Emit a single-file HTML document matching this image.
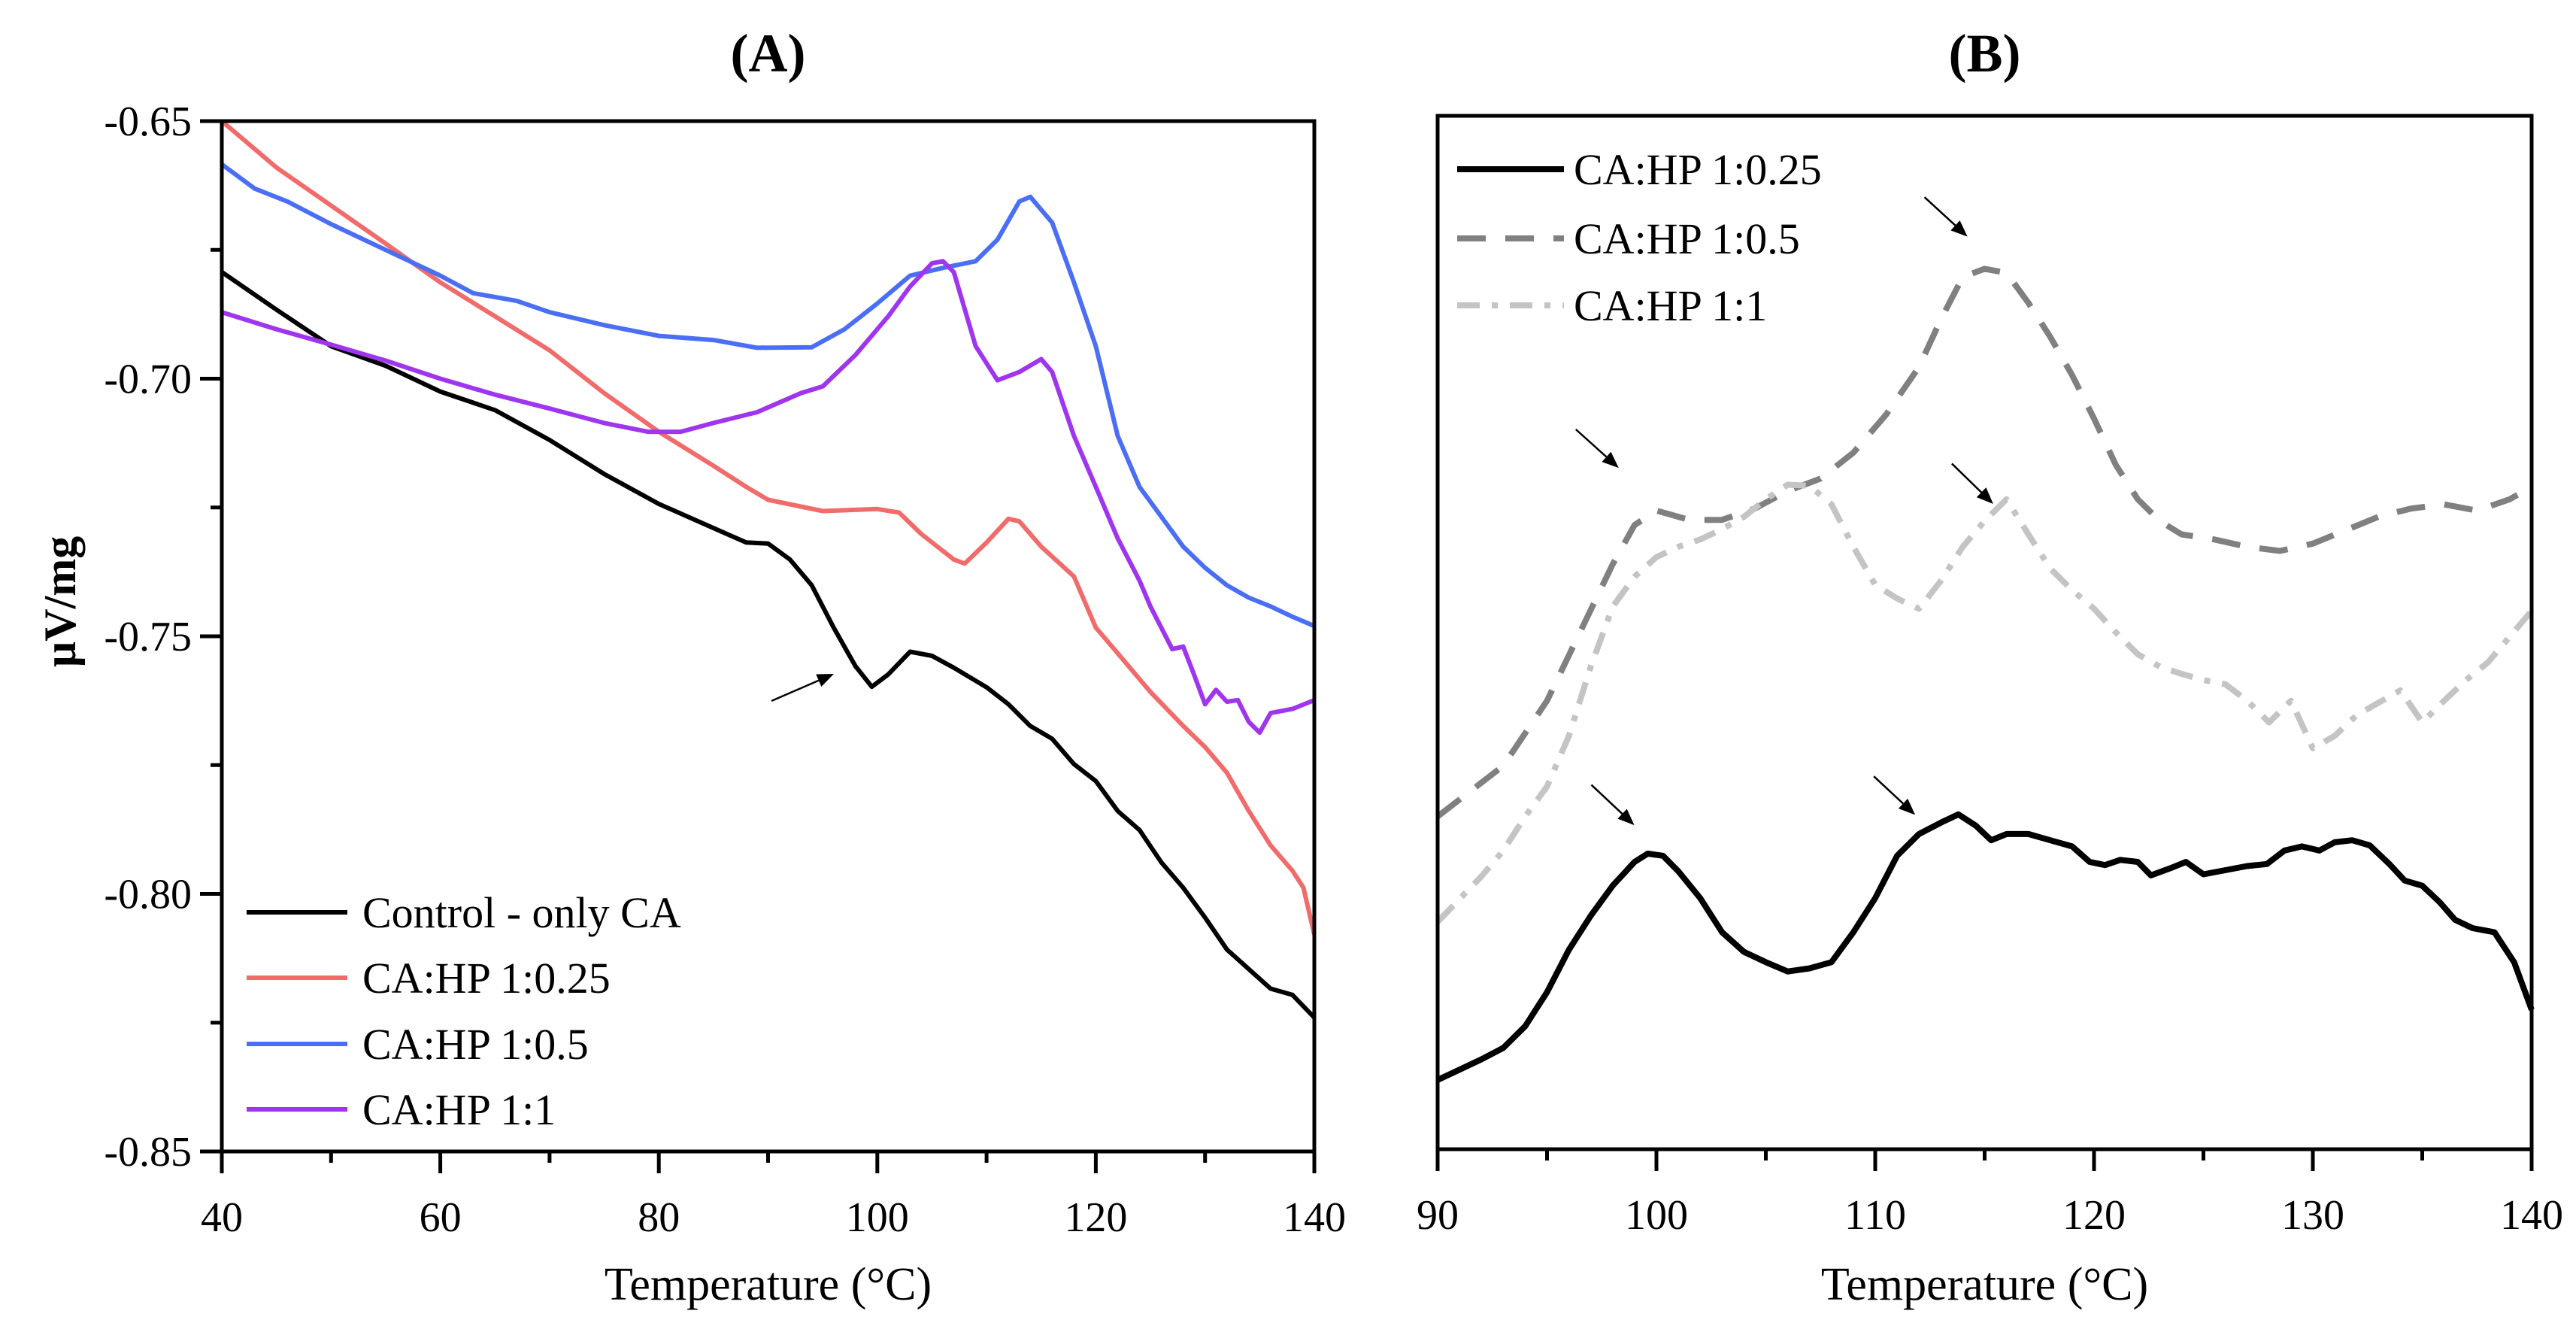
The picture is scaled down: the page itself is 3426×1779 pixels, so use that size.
<!DOCTYPE html>
<html><head><meta charset="utf-8">
<style>
html,body{margin:0;padding:0;background:#fff;}
svg{display:block;font-family:"Liberation Serif",serif;}
</style></head>
<body>
<svg id="fig" width="3426" height="1779" viewBox="0 0 3426 1779">
<rect width="3426" height="1779" fill="#fff"/>
<g id="A"></g>
<g id="B"></g>
</svg>
<script>
// ---------- Panel A data ----------
const aTicksX=[40,60,80,100,120,140];
const aTicksY=[-0.65,-0.70,-0.75,-0.80,-0.85];
const aTickLabelsY=["-0.65","-0.70","-0.75","-0.80","-0.85"];
const aControlT=[40,45,50,55,60,65,70,75,80,85,88,90,92,94,96,98,99.5,101,103,105,107,110,112,114,116,118,120,122,124,126,128,130,132,134,136,138,140];
const aControlV=[-0.6793,-0.6866,-0.6937,-0.6975,-0.7025,-0.7061,-0.7119,-0.7185,-0.7243,-0.7290,-0.7318,-0.7320,-0.7351,-0.7401,-0.7483,-0.7558,-0.7598,-0.7574,-0.7530,-0.7538,-0.7561,-0.7599,-0.7632,-0.7674,-0.7699,-0.7748,-0.7781,-0.7839,-0.7876,-0.7939,-0.7988,-0.8046,-0.8108,-0.8146,-0.8184,-0.8196,-0.8240];
const aRedT=[40,45,50,55,60,65,70,75,80,85,88,90,95,100,102,104,107,108,110,112,113,115,118,120,122,125,128,130,132,134,136,138,139,140];
const aRedV=[-0.650,-0.659,-0.6664,-0.6738,-0.6813,-0.6879,-0.6945,-0.7028,-0.7103,-0.7169,-0.7210,-0.7235,-0.7257,-0.7253,-0.7260,-0.7301,-0.7351,-0.7359,-0.7318,-0.7272,-0.7277,-0.7326,-0.7384,-0.7483,-0.7533,-0.7608,-0.7674,-0.7715,-0.7765,-0.7839,-0.7906,-0.7955,-0.7988,-0.8079];
const aBlueT=[40,43,46,50,55,60,63,67,70,75,80,85,89,94,97,100,103,106,109,111,113,114,116,118,120,122,124,126,128,130,132,134,136,138,140];
const aBlueV=[-0.6584,-0.6631,-0.6656,-0.6700,-0.6750,-0.6800,-0.6834,-0.6849,-0.6871,-0.6896,-0.6917,-0.6925,-0.6940,-0.6939,-0.6904,-0.6854,-0.6800,-0.6785,-0.6772,-0.6730,-0.6656,-0.6647,-0.6697,-0.6813,-0.6937,-0.7111,-0.7210,-0.7268,-0.7326,-0.7367,-0.7401,-0.7425,-0.7442,-0.7462,-0.7480];
const aPurpleT=[40,45,50,55,60,65,70,75,79,82,85,89,93,95,98,101,103,105,106,107,109,111,113,115,116,118,120,122,124,125,127,128,129,130,131,132,133,134,135,136,138,140];
const aPurpleV=[-0.6871,-0.6904,-0.6934,-0.6965,-0.7000,-0.7031,-0.7058,-0.7086,-0.7103,-0.7103,-0.7086,-0.7065,-0.7028,-0.7015,-0.6954,-0.6879,-0.6821,-0.6776,-0.6772,-0.6793,-0.6937,-0.7003,-0.6987,-0.6962,-0.6987,-0.7111,-0.7210,-0.7310,-0.7392,-0.7442,-0.7525,-0.7520,-0.7575,-0.7632,-0.7604,-0.7627,-0.7624,-0.7666,-0.7687,-0.7649,-0.7641,-0.7624];
const aLegendLabels=["Control - only CA","CA:HP 1:0.25","CA:HP 1:0.5","CA:HP 1:1"];

// ---------- Panel B data ----------
const bTicksX=[90,100,110,120,130,140];
const bSolidT=[90,91,92,93,94,95,96,97,98,99,99.6,100.3,101,102,103,104,105,106,107,108,109,110,111,112,113,113.8,114.6,115.3,116,117,118,119,119.8,120.5,121.2,122,122.6,123.5,124.2,125,126,127,127.9,128.7,129.5,130.3,131,131.8,132.6,133.5,134.2,135,135.8,136.5,137.3,138.3,139.2,140];
const bSolidV=[6.7,7.7,8.7,9.8,11.9,15.2,19.3,22.6,25.5,27.8,28.6,28.4,26.9,24.3,21.0,19.1,18.1,17.2,17.5,18.1,21.0,24.3,28.4,30.5,31.6,32.4,31.3,29.9,30.5,30.5,29.9,29.3,27.8,27.5,28.0,27.8,26.5,27.2,27.8,26.6,27.0,27.4,27.6,28.9,29.3,28.9,29.7,29.9,29.4,27.6,26.0,25.5,23.9,22.2,21.4,21.0,18.1,13.5];
const bDashT=[90,93,95,96.5,98,99,100,101.5,103,104.5,106,107.5,109,110.5,112,113,114,115,116,117,118,119,120,121,122,123,124,125.5,127,128.5,130,131.5,133,134.5,136,137.5,139,140];
const bDashV=[32.2,37.1,43.4,50.0,56.6,60.4,61.8,60.9,60.9,62.0,63.7,64.9,67.4,71.1,75.7,80.3,84.4,85.2,84.8,81.9,78.6,74.9,70.7,66.2,62.9,60.8,59.5,59.0,58.3,57.9,58.6,59.9,61.2,62.0,62.4,61.8,62.9,64.1];
const bDotT=[90,92,93,94,95,96,97,98,99,100,101,102,103,104,105,106,107,108,109,110,111,112,113,114,115,116,117,118,119,120,121,122,123,124,125,126,127,128,129,130,131,132,133,134,135,136,137,138,139,140];
const bDotV=[22.0,26.4,28.9,32.2,35.1,40.0,46.7,52.5,55.4,57.3,58.3,59.0,60.0,61.2,62.9,64.3,64.2,62.4,58.3,54.6,53.3,52.3,55.0,58.3,60.8,62.9,59.5,56.2,54.1,52.3,50.0,47.9,46.7,46.0,45.4,45.0,43.4,41.3,43.4,38.8,40.0,42.0,43.2,44.4,41.3,43.4,45.4,47.1,49.6,52.1];
const bLegendLabels=["CA:HP 1:0.25","CA:HP 1:0.5","CA:HP 1:1"];

const NS="http://www.w3.org/2000/svg";
function mk(parent,tag,attrs,text){const e=document.createElementNS(NS,tag);for(const k in attrs)e.setAttribute(k,attrs[k]);if(text!==undefined)e.textContent=text;parent.appendChild(e);return e;}

const A={x0:295,x1:1748,y0:161,y1:1531};
const ax=t=>A.x0+(t-40)/100*(A.x1-A.x0);
const ay=v=>A.y0+(-0.65-v)/0.2*(A.y1-A.y0);
const B={x0:1912,x1:3367,y0:154,y1:1528};
const bx=t=>B.x0+(t-90)/50*(B.x1-B.x0);
const by=v=>B.y1-v/100*(B.y1-B.y0);

const gA=document.getElementById('A');
const gB=document.getElementById('B');

function pathD(T,V,fx,fy){return T.map((t,i)=>(i?'L':'M')+fx(t).toFixed(1)+' '+fy(V[i]).toFixed(1)).join(' ');}

let t;
t=mk(gA,'text',{x:(A.x0+A.x1)/2,y:95,'text-anchor':'middle','font-size':72,'font-weight':'bold'},'(A)');


const seriesA=[[aControlT,aControlV,'#000000','control-line'],[aRedT,aRedV,'#f26b6b','ca-hp-1-0.25-line'],[aBlueT,aBlueV,'#4a6ef5','ca-hp-1-0.5-line'],[aPurpleT,aPurpleV,'#a035f0','ca-hp-1-1-line']];
seriesA.forEach(s=>{
  const p=mk(gA,'path',{d:pathD(s[0],s[1],ax,ay),fill:'none',stroke:s[2],'stroke-width':6,'stroke-linejoin':'round'});
  
  
});
let fr=mk(gA,'rect',{x:A.x0,y:A.y0,width:A.x1-A.x0,height:A.y1-A.y0,fill:'none',stroke:'#000','stroke-width':5});


for(let v=40;v<=140;v+=10){const major=(v-40)%20===0;const l=mk(gA,'line',{x1:ax(v),x2:ax(v),y1:A.y1,y2:A.y1+(major?29:15),stroke:'#000','stroke-width':5});

}
aTicksX.forEach(v=>{const e=mk(gA,'text',{x:ax(v),y:A.y1+106,'text-anchor':'middle','font-size':56},String(v));

});
for(let k=0;k<=8;k++){const v=-0.65-k*0.025;const major=k%2===0;const l=mk(gA,'line',{x1:A.x0-(major?29:15),x2:A.x0,y1:ay(v),y2:ay(v),stroke:'#000','stroke-width':5});

}
aTicksY.forEach((v,i)=>{const e=mk(gA,'text',{x:A.x0-40,y:ay(v)+19,'text-anchor':'end','font-size':56},aTickLabelsY[i]);

});
t=mk(gA,'text',{x:(A.x0+A.x1)/2,y:1728,'text-anchor':'middle','font-size':62},'Temperature (°C)');


t=mk(gA,'text',{x:0,y:0,'text-anchor':'middle','font-size':60,'font-weight':'bold',transform:'translate(100,800) rotate(-90)'},'µV/mg');


function arrow(g,x1,y1,x2,y2){
  const ang=Math.atan2(y2-y1,x2-x1),L=22,W=9;
  const bxp=x2-L*Math.cos(ang),byp=y2-L*Math.sin(ang);
  const l=mk(g,'line',{x1:x1,y1:y1,x2:bxp,y2:byp,stroke:'#000','stroke-width':2.5});
  
  
  const px=-Math.sin(ang)*W,py=Math.cos(ang)*W;
  const h=mk(g,'polygon',{points:`${x2},${y2} ${bxp+px},${byp+py} ${bxp-px},${byp-py}`,fill:'#000'});
  
  
}
arrow(gA,1026,932,1109,896);
const legYA=[1213,1300,1388,1475];
seriesA.forEach((s,i)=>{
  const g=mk(gA,'g',{});
  
  
  mk(g,'line',{x1:328,x2:462,y1:legYA[i],y2:legYA[i],stroke:s[2],'stroke-width':6});
  mk(g,'text',{x:482,y:legYA[i]+20,'font-size':58},aLegendLabels[i]);
});

t=mk(gB,'text',{x:(B.x0+B.x1)/2,y:95,'text-anchor':'middle','font-size':72,'font-weight':'bold'},'(B)');


const seriesB=[[bSolidT,bSolidV,'#000000','none','ca-hp-1-0.25-line-b'],[bDashT,bDashV,'#808080','38 26','ca-hp-1-0.5-line-b'],[bDotT,bDotV,'#c4c4c4','30 16 8 16','ca-hp-1-1-line-b']];
seriesB.forEach(s=>{
  const p=mk(gB,'path',{d:pathD(s[0],s[1],bx,by),fill:'none',stroke:s[2],'stroke-width':8,'stroke-dasharray':s[3],'stroke-linejoin':'round'});
  
  
});
fr=mk(gB,'rect',{x:B.x0,y:B.y0,width:B.x1-B.x0,height:B.y1-B.y0,fill:'none',stroke:'#000','stroke-width':5});


for(let v=90;v<=140;v+=5){const major=v%10===0;const l=mk(gB,'line',{x1:bx(v),x2:bx(v),y1:B.y1,y2:B.y1+(major?29:15),stroke:'#000','stroke-width':5});

}
bTicksX.forEach(v=>{const e=mk(gB,'text',{x:bx(v),y:B.y1+106,'text-anchor':'middle','font-size':56},String(v));

});
t=mk(gB,'text',{x:(B.x0+B.x1)/2,y:1728,'text-anchor':'middle','font-size':62},'Temperature (°C)');


const bArrows=[[285,503,340,548],[305,918,360,965],[667,908,720,953],[732,232,787,278],[767,543,820,590]];
bArrows.forEach(a=>{const cx=z=>1800+z*1.0377, cy=z=>154+(z-137)*1.139;arrow(gB,cx(a[0]),cy(a[1]),cx(a[2]),cy(a[3]));});
const legYB=[225,317,406];
seriesB.forEach((s,i)=>{
  const g=mk(gB,'g',{});
  
  
  mk(g,'line',{x1:1938,x2:2080,y1:legYB[i],y2:legYB[i],stroke:s[2],'stroke-width':8,'stroke-dasharray':s[3]});
  mk(g,'text',{x:2093,y:legYB[i]+20,'font-size':58},bLegendLabels[i]);
});
</script>
</body></html>
